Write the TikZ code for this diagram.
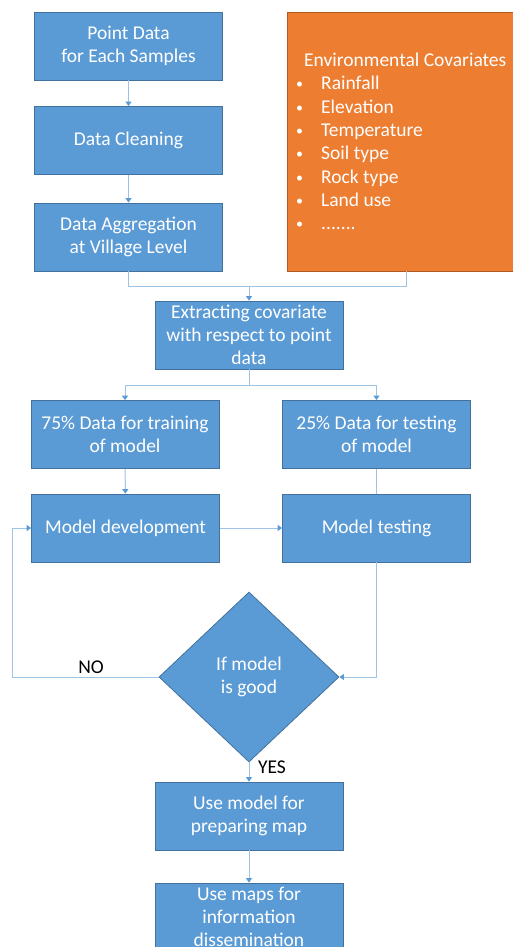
\documentclass[tikz,border=0pt]{standalone}
\usepackage{fontspec}
\setmainfont{Carlito}
\usetikzlibrary{shapes.geometric,arrows.meta}
\definecolor{boxblue}{HTML}{5B9BD5}
\definecolor{boxedge}{HTML}{41719C}
\definecolor{envorange}{HTML}{ED7D31}
\definecolor{envedge}{HTML}{AE5A21}
\definecolor{linkblue}{HTML}{9DC3E6}
% small bullet followed by the hanging indent of a list item
\newcommand{\envitem}{\makebox[25pt][l]{\raisebox{1pt}{\fontsize{14}{14}\selectfont\textbullet}}}
\begin{document}
\begin{tikzpicture}[x=1pt,y=-1pt,
  every node/.style={font=\fontsize{19.5}{23.3}\selectfont},
  stepbox/.style={rectangle, fill=boxblue, draw=boxedge, line width=0.8pt,
    text=white, align=center, inner sep=0pt, minimum width=188pt, minimum height=68pt},
  decision/.style={diamond, fill=boxblue, draw=boxedge, line width=0.8pt,
    text=white, align=center, inner sep=0pt, minimum width=180pt, minimum height=170pt},
  envbox/.style={rectangle, fill=envorange, draw=envedge, line width=0.8pt, inner sep=0pt},
  link/.style={draw=linkblue, line width=1pt},
  flow/.style={link, -{Triangle[length=4.5pt,width=6pt,fill=boxblue,color=boxblue]}},
  tag/.style={text=black}]
\useasboundingbox (0,0) rectangle (513,947);

% data preparation column
\node[stepbox] (point) at (128.5,46) {Point Data\\for Each Samples};
\node[stepbox] (clean) at (128.5,140.5) {Data Cleaning};
\node[stepbox] (aggr) at (128.5,237) {Data Aggregation\\at Village Level};

% covariate list
\node[envbox, minimum width=238pt, minimum height=259pt] (env) at (406,141.5) {};
\node[anchor=west, text=white, align=left, inner sep=0pt] (envlist) at (296,141.5)
  {\hspace*{8pt}Environmental Covariates\\
   \envitem Rainfall\\
   \envitem Elevation\\
   \envitem Temperature\\
   \envitem Soil type\\
   \envitem Rock type\\
   \envitem Land use\\
   \envitem .......};

\node[stepbox] (extract) at (249,335) {Extracting covariate\\with respect to point\\data};

\node[stepbox] (train) at (125,434.5) {75\% Data for training\\of model};
\node[stepbox] (test) at (376.5,434.5) {25\% Data for testing\\of model};
\node[stepbox] (dev) at (125.5,528) {Model development};
\node[stepbox] (testing) at (376.5,528) {Model testing};

\node[decision] (good) at (249,677) {If model\\is good};

\node[stepbox] (usemodel) at (249,816) {Use model for\\preparing map};
\node[stepbox] (usemaps) at (249,917) {Use maps for\\information\\dissemination};

\node[tag] (no) at (91,667) {NO};
\node[tag] (yes) at (272,767) {YES};

% junction points
\coordinate (join) at (249,286);
\coordinate (split) at (249,385);
\coordinate (loop) at (12,677);

% connectors
\draw[flow] (point) -- (clean);
\draw[flow] (clean) -- (aggr);
\draw[link] (aggr.south) |- (join);
\draw[link] (env.south) |- (join);
\draw[flow] (join) -- (extract.north);
\draw[link] (extract.south) -- (split);
\draw[flow] (split) -| (train.north);
\draw[flow] (split) -| (test.north);
\draw[flow] (train) -- (dev);
\draw[link] (test) -- (testing);
\draw[flow] (dev) -- (testing);
\draw[flow] (testing.south) |- (good.east);
\draw[link] (good.west) -- (loop);
\draw[flow] (loop) |- (dev.west);
\draw[flow] (good.south) -- (usemodel.north);
\draw[flow] (usemodel) -- (usemaps);
\end{tikzpicture}
\end{document}
